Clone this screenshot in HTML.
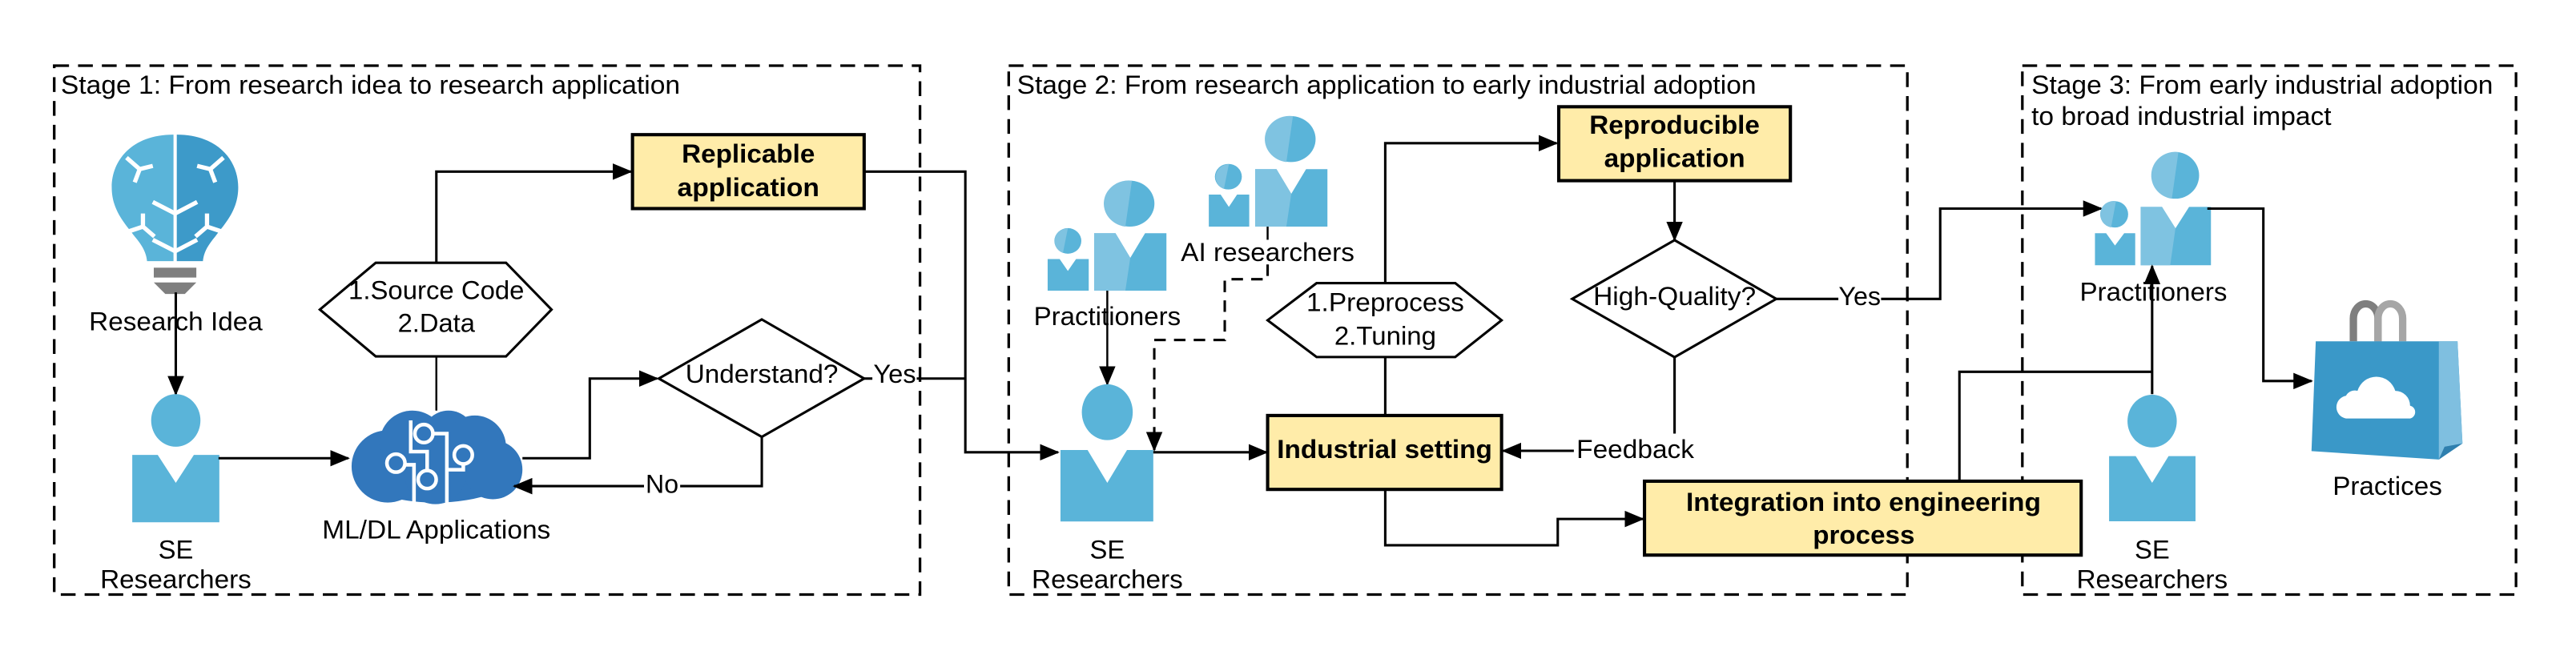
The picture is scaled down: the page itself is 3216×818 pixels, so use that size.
<!DOCTYPE html>
<html><head><meta charset="utf-8"><style>
html,body{margin:0;padding:0;background:#fff;}
svg{display:block;}
text{font-family:"Liberation Sans",Arial,sans-serif;font-size:16px;fill:#000;}
.b{font-weight:bold;}
</style></head><body>
<svg width="3216" height="818" viewBox="0 0 1568 398.83" xmlns="http://www.w3.org/2000/svg">
<defs>
<marker id="ar" markerUnits="userSpaceOnUse" markerWidth="12" markerHeight="10" refX="11" refY="5" orient="auto">
<path d="M0,0 L12,5 L0,10 Z" fill="#000"/></marker>
</defs>
<rect width="1568" height="399" fill="#fff"/>

<!-- stage boxes -->
<g fill="none" stroke="#000" stroke-width="1.6" stroke-dasharray="9,5.5">
<rect x="33" y="40" width="527" height="322"/>
<rect x="614" y="40" width="547" height="322"/>
<rect x="1231" y="40" width="300.5" height="322"/>
</g>
<text x="37" y="57" textLength="377" lengthAdjust="spacingAndGlyphs">Stage 1: From research idea to research application</text>
<text x="619" y="57" textLength="450" lengthAdjust="spacingAndGlyphs">Stage 2: From research application to early industrial adoption</text>
<text x="1236.5" y="57" textLength="281" lengthAdjust="spacingAndGlyphs">Stage 3: From early industrial adoption</text>
<text x="1236.5" y="76" textLength="182.6" lengthAdjust="spacingAndGlyphs">to broad industrial impact</text>

<!-- bulb -->
<path d="M105.6,82 C80,82 68,98 68,114 C68,128 76,136 82,144 C87,150 89,154 89.5,159 L105.6,159 Z" fill="#5ab4d9"/>
<path d="M107.6,82 C133,82 145,98 145,114 C145,128 137,136 131,144 C126,150 124,154 123.5,159 L107.6,159 Z" fill="#3d9ac9"/>
<g stroke="#fff" stroke-width="2.6" fill="none">
<path d="M77,96 L85,103 L93,101 M85,103 L82,111"/>
<path d="M136,96 L128,103 L120,101 M128,103 L131,111"/>
<path d="M93,123 L106.6,130 L120,123"/>
<path d="M93,146 L106.6,153 L120,146"/>
<path d="M78,141 L87,138 L87,130 M87,138 L94,144"/>
<path d="M135,141 L126,138 L126,130 M126,138 L119,144"/>
</g>
<rect x="93.6" y="163" width="25.9" height="6" fill="#7f7f7f"/>
<path d="M93.6,172 L119.5,172 L112.5,179 L100.6,179 Z" fill="#7f7f7f"/>
<text x="107" y="201" text-anchor="middle" textLength="105.6" lengthAdjust="spacingAndGlyphs">Research Idea</text>
<line x1="107" y1="178" x2="107" y2="240" stroke="#000" stroke-width="1.5" marker-end="url(#ar)"/>

<!-- SE person 1 -->
<ellipse cx="107" cy="256" rx="15" ry="16" fill="#5ab4d9"/>
<path d="M80.5,277 L96,277 L107,294 L118,277 L133.5,277 L133.5,318 L80.5,318 Z" fill="#5ab4d9"/>
<text x="107" y="340" text-anchor="middle">SE</text>
<text x="107" y="358" text-anchor="middle" textLength="92" lengthAdjust="spacingAndGlyphs">Researchers</text>
<line x1="133" y1="279" x2="212" y2="279" stroke="#000" stroke-width="1.5" marker-end="url(#ar)"/>

<!-- ML cloud -->
<g fill="#3277bc">
<ellipse cx="265" cy="286" rx="50" ry="20"/>
<circle cx="236" cy="284" r="22"/>
<circle cx="251" cy="270" r="20"/>
<circle cx="273" cy="266" r="16"/>
<circle cx="289" cy="272" r="19"/>
<circle cx="300" cy="286" r="18"/>
<circle cx="265" cy="288" r="19"/>
</g>
<g stroke="#fff" stroke-width="2.2" fill="none">
<path d="M250,256 L250,275 L260,275 L260,286"/>
<circle cx="260" cy="292" r="5.5"/>
<circle cx="258" cy="264" r="5.5"/>
<path d="M263.5,264 L272,264 L272,306"/>
<circle cx="241" cy="282" r="5.5"/>
<path d="M246.5,283 L252,283 L252,306"/>
<circle cx="282" cy="277" r="5.5"/>
<path d="M282,282.5 L282,286 L272,286"/>
</g>
<text x="265.6" y="328" text-anchor="middle" textLength="139" lengthAdjust="spacingAndGlyphs">ML/DL Applications</text>

<!-- hex 1 -->
<line x1="265.6" y1="250" x2="265.6" y2="217" stroke="#000" stroke-width="1.2"/>
<path d="M228.7,160 L308,160 L335.7,188.5 L308,217 L228.7,217 L194.7,188.5 Z" fill="#fff" stroke="#000" stroke-width="1.5"/>
<text x="265.6" y="182" text-anchor="middle" textLength="107" lengthAdjust="spacingAndGlyphs">1.Source Code</text>
<text x="265.6" y="202" text-anchor="middle" textLength="47" lengthAdjust="spacingAndGlyphs">2.Data</text>
<polyline points="265.6,160 265.6,104.5 384,104.5" fill="none" stroke="#000" stroke-width="1.5" marker-end="url(#ar)"/>

<rect x="385" y="82" width="141" height="45" fill="#ffeca9" stroke="#000" stroke-width="2"/>
<text class="b" x="455.5" y="99" text-anchor="middle" textLength="81" lengthAdjust="spacingAndGlyphs">Replicable</text>
<text class="b" x="455.5" y="119.5" text-anchor="middle" textLength="86.5" lengthAdjust="spacingAndGlyphs">application</text>

<!-- Understand -->
<polyline points="318,279 359,279 359,230.5 400,230.5" fill="none" stroke="#000" stroke-width="1.5" marker-end="url(#ar)"/>
<path d="M463.7,194.5 L526,230.5 L463.7,266 L401,230.5 Z" fill="#fff" stroke="#000" stroke-width="1.5"/>
<text x="463.7" y="233" text-anchor="middle" textLength="93" lengthAdjust="spacingAndGlyphs">Understand?</text>
<polyline points="463.7,266 463.7,296 313,296" fill="none" stroke="#000" stroke-width="1.5" marker-end="url(#ar)"/>
<rect x="392" y="287" width="22" height="16" fill="#fff"/>
<text x="403" y="300" text-anchor="middle" textLength="20" lengthAdjust="spacingAndGlyphs">No</text>
<line x1="526" y1="230.5" x2="531" y2="230.5" stroke="#000" stroke-width="1.5"/>
<text x="531.6" y="233" textLength="26" lengthAdjust="spacingAndGlyphs">Yes</text>
<polyline points="558,230.5 587.6,230.5" fill="none" stroke="#000" stroke-width="1.5"/>
<polyline points="526,104.5 587.6,104.5 587.6,275.4 644,275.4" fill="none" stroke="#000" stroke-width="1.5" marker-end="url(#ar)"/>

<!-- Stage2 practitioners -->
<ellipse cx="650" cy="146.7" rx="8.2" ry="7.8" fill="#5ab4d9"/>
<path d="M650,139 A8.2,7.8 0 0 0 647,154 Z" fill="#7fc3e1"/>
<path d="M637.7,157.7 L645,157.7 L650,165 L655,157.7 L662.7,157.7 L662.7,177 L637.7,177 Z" fill="#5ab4d9"/>
<ellipse cx="687.7" cy="124" rx="15" ry="14" fill="#5ab4d9"/>
<path d="M689,110 A15,14 0 0 0 685,138 Z" fill="#7fc3e1"/>
<path d="M666,142 L679,142 L688,157 L697,142 L710,142 L710,177 L666,177 Z" fill="#5ab4d9"/>
<path d="M666,142 L679,142 L688,157 L685,177 L666,177 Z" fill="#7fc3e1"/>
<text x="674" y="198" text-anchor="middle" textLength="89.5" lengthAdjust="spacingAndGlyphs">Practitioners</text>
<line x1="674" y1="177" x2="674" y2="234" stroke="#000" stroke-width="1.2" marker-end="url(#ar)"/>

<!-- AI researchers -->
<ellipse cx="747.7" cy="107.6" rx="8.2" ry="7.8" fill="#5ab4d9"/>
<path d="M748,100 A8.2,7.8 0 0 0 745,115 Z" fill="#7fc3e1"/>
<path d="M735.8,118.5 L743,118.5 L748,126 L753,118.5 L760.4,118.5 L760.4,138 L735.8,138 Z" fill="#5ab4d9"/>
<ellipse cx="785.8" cy="84.7" rx="15" ry="14" fill="#5ab4d9"/>
<path d="M787,70.7 A15,14 0 0 0 783,98.7 Z" fill="#7fc3e1"/>
<path d="M764,103 L777,103 L786,118 L795,103 L808,103 L808,138 L764,138 Z" fill="#5ab4d9"/>
<path d="M764,103 L777,103 L786,118 L783,138 L764,138 Z" fill="#7fc3e1"/>
<text x="771.6" y="159" text-anchor="middle" textLength="105.6" lengthAdjust="spacingAndGlyphs">AI researchers</text>
<line x1="771.6" y1="138" x2="771.6" y2="146" stroke="#000" stroke-width="1.2"/>
<polyline points="771.6,161 771.6,170 745.5,170 745.5,207 702.6,207 702.6,274" fill="none" stroke="#000" stroke-width="1.5" stroke-dasharray="7,5" marker-end="url(#ar)"/>

<!-- SE person 2 -->
<ellipse cx="674" cy="251" rx="15.5" ry="17" fill="#5ab4d9"/>
<path d="M645.5,274 L662,274 L674,294 L686,274 L702,274 L702,317.5 L645.5,317.5 Z" fill="#5ab4d9"/>
<text x="674" y="340" text-anchor="middle">SE</text>
<text x="674" y="358" text-anchor="middle" textLength="92" lengthAdjust="spacingAndGlyphs">Researchers</text>
<line x1="702" y1="275.4" x2="771" y2="275.4" stroke="#000" stroke-width="1.5" marker-end="url(#ar)"/>

<!-- Industrial setting -->
<rect x="771.6" y="253" width="142.4" height="45" fill="#ffeca9" stroke="#000" stroke-width="2"/>
<text class="b" x="842.8" y="279" text-anchor="middle" textLength="131" lengthAdjust="spacingAndGlyphs">Industrial setting</text>
<line x1="843.2" y1="253" x2="843.2" y2="217.4" stroke="#000" stroke-width="1.5"/>
<path d="M801.4,172.4 L885.8,172.4 L914,195 L885.8,217.4 L801.4,217.4 L771.6,195 Z" fill="#fff" stroke="#000" stroke-width="1.5"/>
<text x="843.2" y="189.5" text-anchor="middle" textLength="96" lengthAdjust="spacingAndGlyphs">1.Preprocess</text>
<text x="843.2" y="210" text-anchor="middle" textLength="62" lengthAdjust="spacingAndGlyphs">2.Tuning</text>
<polyline points="843.2,172.4 843.2,87.2 947.5,87.2" fill="none" stroke="#000" stroke-width="1.5" marker-end="url(#ar)"/>

<rect x="948.8" y="65" width="141" height="45" fill="#ffeca9" stroke="#000" stroke-width="2"/>
<text class="b" x="1019.3" y="81.4" text-anchor="middle" textLength="103.7" lengthAdjust="spacingAndGlyphs">Reproducible</text>
<text class="b" x="1019.3" y="101.7" text-anchor="middle" textLength="85.8" lengthAdjust="spacingAndGlyphs">application</text>
<line x1="1019.3" y1="110" x2="1019.3" y2="146" stroke="#000" stroke-width="1.5" marker-end="url(#ar)"/>
<path d="M1019.3,146.2 L1081.2,182 L1019.3,217.5 L957,182 Z" fill="#fff" stroke="#000" stroke-width="1.5"/>
<text x="1019.3" y="185.7" text-anchor="middle" textLength="99" lengthAdjust="spacingAndGlyphs">High-Quality?</text>
<line x1="1081.2" y1="182" x2="1119" y2="182" stroke="#000" stroke-width="1.5"/>
<text x="1132" y="185.7" text-anchor="middle" textLength="25.7" lengthAdjust="spacingAndGlyphs">Yes</text>
<polyline points="1145,182 1181,182 1181,127 1279,127" fill="none" stroke="#000" stroke-width="1.5" marker-end="url(#ar)"/>
<polyline points="1019.3,217.5 1019.3,264" fill="none" stroke="#000" stroke-width="1.5"/>
<line x1="958" y1="274.5" x2="915" y2="274.5" stroke="#000" stroke-width="1.5" marker-end="url(#ar)"/>
<text x="995.4" y="279" text-anchor="middle" textLength="71.6" lengthAdjust="spacingAndGlyphs">Feedback</text>

<polyline points="843.2,298 843.2,332 948.2,332 948.2,316 1000,316" fill="none" stroke="#000" stroke-width="1.5" marker-end="url(#ar)"/>
<polyline points="1192.7,293 1192.7,226.4 1310,226.4" fill="none" stroke="#000" stroke-width="1.5"/>
<rect x="1001" y="293" width="265.8" height="45" fill="#ffeca9" stroke="#000" stroke-width="2"/>
<text class="b" x="1134.3" y="311" text-anchor="middle" textLength="216" lengthAdjust="spacingAndGlyphs">Integration into engineering</text>
<text class="b" x="1134.5" y="331" text-anchor="middle" textLength="62" lengthAdjust="spacingAndGlyphs">process</text>

<!-- Stage3 practitioners -->
<ellipse cx="1287.4" cy="130.5" rx="8" ry="8" fill="#5ab4d9"/>
<path d="M1288,122.5 A8,8 0 0 0 1285,138.5 Z" fill="#7fc3e1"/>
<path d="M1275.2,142 L1282,142 L1287.4,149.5 L1293,142 L1299.7,142 L1299.7,161.5 L1275.2,161.5 Z" fill="#5ab4d9"/>
<ellipse cx="1324.2" cy="106.8" rx="14.4" ry="14.2" fill="#5ab4d9"/>
<path d="M1326,92.6 A14.4,14.2 0 0 0 1322,121 Z" fill="#7fc3e1"/>
<path d="M1303,126 L1316,126 L1324.2,139 L1332.5,126 L1345.8,126 L1345.8,161.5 L1303,161.5 Z" fill="#5ab4d9"/>
<path d="M1303,126 L1316,126 L1324.2,139 L1321,161.5 L1303,161.5 Z" fill="#7fc3e1"/>
<text x="1310.8" y="183" text-anchor="middle" textLength="89.7" lengthAdjust="spacingAndGlyphs">Practitioners</text>
<line x1="1310" y1="240" x2="1310" y2="162" stroke="#000" stroke-width="1.5" marker-end="url(#ar)"/>
<polyline points="1343.6,127 1377.7,127 1377.7,232 1407,232" fill="none" stroke="#000" stroke-width="1.5" marker-end="url(#ar)"/>

<!-- bag -->
<path d="M1432.5,207.8 L1432.5,194 A7.5,9 0 0 1 1447.5,194 L1447.5,207.8" fill="none" stroke="#7f7f7f" stroke-width="4.5"/>
<path d="M1447.5,207.8 L1447.5,194 A7.5,9 0 0 1 1462.5,194 L1462.5,207.8" fill="none" stroke="#a6a6a6" stroke-width="4.5"/>
<path d="M1409.6,207.8 L1495.9,207.8 L1498.9,270 L1484.5,279.8 L1407,274.7 Z" fill="#3a98c8"/>
<path d="M1484.5,207.8 L1495.9,207.8 L1498.9,270 L1484.5,279.8 Z" fill="#7fbfe0"/>
<path d="M1484.5,279.8 L1498.9,270 L1488,272 Z" fill="#2f7fae"/>
<path d="M1428,254.8 A7,7 0 0 1 1428,241 A6,6 0 0 1 1435,238 A12,12 0 0 1 1458,238 A9,9 0 0 1 1467,247 A4,4 0 0 1 1467,254.8 Z" fill="#fff"/>
<text x="1453.2" y="301.4" text-anchor="middle" textLength="66.6" lengthAdjust="spacingAndGlyphs">Practices</text>

<!-- SE person 3 -->
<ellipse cx="1310" cy="256.4" rx="15" ry="16" fill="#5ab4d9"/>
<path d="M1283.8,277.7 L1300,277.7 L1310,294 L1320,277.7 L1336.4,277.7 L1336.4,317.4 L1283.8,317.4 Z" fill="#5ab4d9"/>
<text x="1310" y="340" text-anchor="middle">SE</text>
<text x="1310" y="358" text-anchor="middle" textLength="92" lengthAdjust="spacingAndGlyphs">Researchers</text>
</svg>
</body></html>
